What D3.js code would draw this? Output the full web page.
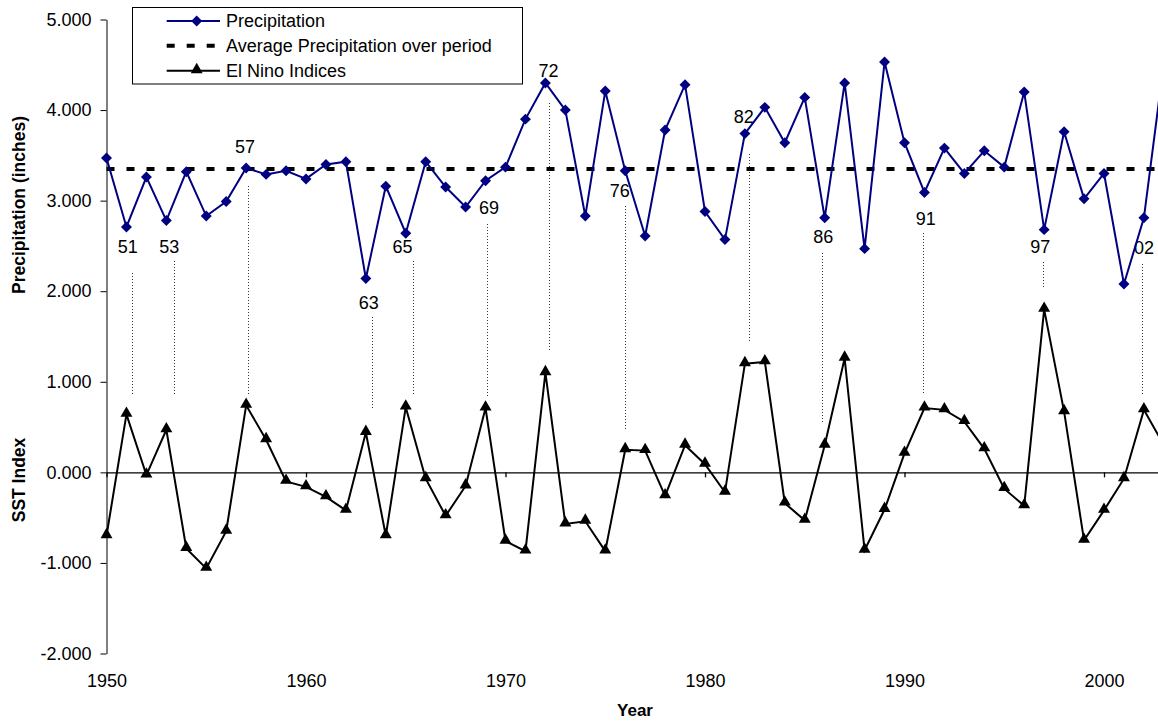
<!DOCTYPE html>
<html>
<head>
<meta charset="utf-8">
<script src="https://cdn.jsdelivr.net/npm/d3@7"></script>
<style>
  body { margin: 0; background: #fff; }
  svg { display: block; font-family: "Liberation Sans", Arial, sans-serif; }
</style>
</head>
<body>
<svg id="chart"></svg>
<script>
// data
var years = d3.range(1950, 2004);
var precipitation = [3.47, 2.71, 3.26, 2.78, 3.32, 2.83, 2.99, 3.36, 3.29, 3.33,
                     3.24, 3.40, 3.43, 2.14, 3.16, 2.64, 3.43, 3.15, 2.93, 3.22,
                     3.37, 3.90, 4.30, 4.00, 2.83, 4.21, 3.33, 2.61, 3.78, 4.28,
                     2.88, 2.57, 3.74, 4.03, 3.64, 4.14, 2.81, 4.30, 2.47, 4.53,
                     3.64, 3.09, 3.58, 3.30, 3.55, 3.37, 4.20, 2.68, 3.76, 3.02,
                     3.30, 2.08, 2.81, 4.52];
var sstIndex = [-0.70, 0.64, -0.03, 0.47, -0.84, -1.06, -0.65, 0.74, 0.36, -0.10,
                -0.16, -0.27, -0.42, 0.44, -0.70, 0.72, -0.07, -0.48, -0.15, 0.71,
                -0.76, -0.87, 1.10, -0.57, -0.54, -0.87, 0.25, 0.24, -0.26, 0.30,
                0.09, -0.22, 1.20, 1.22, -0.34, -0.53, 0.30, 1.26, -0.86, -0.41,
                0.21, 0.71, 0.69, 0.56, 0.26, -0.18, -0.37, 1.80, 0.67, -0.75,
                -0.42, -0.07, 0.69, 0.30];
var averagePrecipitation = 3.35;

var yTicks = [-2, -1, 0, 1, 2, 3, 4, 5];
var xTicks = [1950, 1960, 1970, 1980, 1990, 2000];

var seriesNames = ["Precipitation", "Average Precipitation over period", "El Nino Indices"];

// El Nino year notes (year position, value on precipitation scale)
var noteLabels = ["51", "53", "57", "63", "65", "69", "72", "76", "82", "86", "91", "97", "02"];
var noteLabelYear = [1951.06, 1953.15, 1956.94, 1963.15, 1964.84, 1969.17, 1972.16, 1975.73, 1981.94, 1985.93, 1991.07, 1996.81, 2002.0];
var noteLabelValue = [2.49, 2.49, 3.60, 1.87, 2.49, 2.92, 4.44, 3.11, 3.93, 2.60, 2.80, 2.49, 2.48];
var noteLineYear = [1951.30, 1953.40, 1957.09, 1963.30, 1965.36, 1969.07, 1972.16, 1976.01, 1982.20, 1985.85, 1990.94, 1996.94, 2001.88];
var noteLineTop = [2.20, 2.33, 3.16, 1.71, 2.33, 2.74, 4.08, 2.94, 3.52, 2.42, 2.64, 2.32, 2.30];
var noteLineBottom = [0.86, 0.86, 0.87, 0.69, 0.86, 0.84, 1.35, 0.47, 1.43, 0.54, 0.86, 2.04, 0.84];

var screen = { width: 1158, height: 721 };
var plot = { left: 106.5, top: 19.5, bottom: 653.5, perYear: 19.95 };

var drawChart = function(svgSelector)
{
  var svg = d3.select(svgSelector)
              .attr("width", screen.width)
              .attr("height", screen.height);

  var xScale = d3.scaleLinear()
                 .domain([1950, 2010])
                 .range([plot.left, plot.left + 60 * plot.perYear]);

  var yScale = d3.scaleLinear()
                 .domain([-2, 5])
                 .range([plot.bottom, plot.top]);

  var navy = "#000080";
  var fmt3 = d3.format(".3f");

  // y axis
  svg.append("g")
     .attr("transform", "translate(" + plot.left + ",0)")
     .call(d3.axisLeft(yScale).tickValues(yTicks)
             .tickFormat(function(d){ return fmt3(d).replace("\u2212", "-"); })
             .tickSize(6).tickSizeOuter(0).tickPadding(9))
     .call(function(g){
        g.selectAll("text").attr("font-size", 18).attr("fill", "#000")
         .attr("font-family", "Liberation Sans, Arial, sans-serif");
        g.selectAll("line, path").attr("stroke", "#000");
     });

  // x axis on the zero line
  svg.append("g")
     .attr("transform", "translate(0," + yScale(0) + ")")
     .call(d3.axisBottom(xScale).tickValues(xTicks.concat([2010])).tickFormat("").tickSize(5).tickSizeOuter(0))
     .call(function(g){
        g.selectAll("line, path").attr("stroke", "#000").attr("stroke-width", 1.3);
     });

  // x tick labels low
  svg.append("g")
     .attr("transform", "translate(0," + plot.bottom + ")")
     .call(d3.axisBottom(xScale).tickValues(xTicks).tickFormat(d3.format("d")).tickSize(0).tickPadding(20.5))
     .call(function(g){
        g.select(".domain").remove();
        g.selectAll("text").attr("font-size", 18).attr("fill", "#000")
         .attr("font-family", "Liberation Sans, Arial, sans-serif");
     });

  // axis titles
  svg.append("text")
     .text("Precipitation (inches)")
     .attr("transform", "translate(18.5,205) rotate(-90)")
     .attr("text-anchor", "middle").attr("dy", "0.35em")
     .attr("font-size", 17.5).attr("font-weight", "bold");

  svg.append("text")
     .text("SST Index")
     .attr("transform", "translate(18.5,480) rotate(-90)")
     .attr("text-anchor", "middle").attr("dy", "0.35em")
     .attr("font-size", 17.5).attr("font-weight", "bold");

  svg.append("text")
     .text("Year")
     .attr("x", 635).attr("y", 710)
     .attr("text-anchor", "middle").attr("dy", "0.35em")
     .attr("font-size", 17).attr("font-weight", "bold");

  // dotted note lines and labels
  svg.append("g").selectAll("line")
     .data(noteLabels)
     .enter()
     .append("line")
     .attr("x1", function(d, i){ return Math.round(xScale(noteLineYear[i])) + 0.5; })
     .attr("x2", function(d, i){ return Math.round(xScale(noteLineYear[i])) + 0.5; })
     .attr("y1", function(d, i){ return Math.round(yScale(noteLineTop[i])); })
     .attr("y2", function(d, i){ return Math.round(yScale(noteLineBottom[i])); })
     .attr("stroke", "#333")
     .attr("stroke-width", 1)
     .attr("stroke-dasharray", "1,2");

  svg.append("g").selectAll("text")
     .data(noteLabels)
     .enter()
     .append("text")
     .text(function(d){ return d; })
     .attr("x", function(d, i){ return xScale(noteLabelYear[i]); })
     .attr("y", function(d, i){ return yScale(noteLabelValue[i]); })
     .attr("dy", "0.35em")
     .attr("text-anchor", "middle")
     .attr("font-size", 18);

  // average line
  svg.append("line")
     .attr("x1", xScale(1950))
     .attr("x2", xScale(2010))
     .attr("y1", yScale(averagePrecipitation))
     .attr("y2", yScale(averagePrecipitation))
     .attr("stroke", "#000")
     .attr("stroke-width", 4)
     .attr("stroke-dasharray", "8,12");

  // El Nino index
  var sstLine = d3.line()
                  .x(function(d, i){ return xScale(years[i]); })
                  .y(function(d){ return yScale(d); });

  svg.append("path")
     .datum(sstIndex)
     .attr("d", sstLine)
     .attr("fill", "none")
     .attr("stroke", "#000")
     .attr("stroke-width", 2);

  var triangle = d3.symbol().type(d3.symbolTriangle).size(62);
  svg.append("g").selectAll("path")
     .data(sstIndex)
     .enter()
     .append("path")
     .attr("d", triangle)
     .attr("transform", function(d, i){ return "translate(" + xScale(years[i]) + "," + (yScale(d) - 1) + ")"; })
     .attr("fill", "#000");

  // precipitation
  var precipLine = d3.line()
                     .x(function(d, i){ return xScale(years[i]); })
                     .y(function(d){ return yScale(d); });

  svg.append("path")
     .datum(precipitation)
     .attr("d", precipLine)
     .attr("fill", "none")
     .attr("stroke", navy)
     .attr("stroke-width", 2);

  var diamond = d3.symbol().type(d3.symbolSquare).size(60);
  svg.append("g").selectAll("path")
     .data(precipitation)
     .enter()
     .append("path")
     .attr("d", diamond)
     .attr("transform", function(d, i){ return "translate(" + xScale(years[i]) + "," + yScale(d) + ") rotate(45)"; })
     .attr("fill", navy);

  // legend
  var legend = svg.append("g");
  legend.append("rect")
        .attr("x", 132.5).attr("y", 7.5)
        .attr("width", 390).attr("height", 76.5)
        .attr("fill", "#fff")
        .attr("stroke", "#000")
        .attr("stroke-width", 1);

  var rowY = [21, 45.7, 70.7];
  legend.selectAll("text")
        .data(seriesNames)
        .enter()
        .append("text")
        .text(function(d){ return d; })
        .attr("x", 226)
        .attr("y", function(d, i){ return rowY[i]; })
        .attr("dy", "0.35em")
        .attr("font-size", 18);

  legend.append("line")
        .attr("x1", 166.7).attr("x2", 220).attr("y1", rowY[0]).attr("y2", rowY[0])
        .attr("stroke", navy).attr("stroke-width", 2);
  legend.append("path")
        .attr("d", diamond)
        .attr("transform", "translate(196.7," + rowY[0] + ") rotate(45)")
        .attr("fill", navy);

  legend.append("line")
        .attr("x1", 166.7).attr("x2", 220).attr("y1", rowY[1]).attr("y2", rowY[1])
        .attr("stroke", "#000").attr("stroke-width", 4)
        .attr("stroke-dasharray", "8,12");

  legend.append("line")
        .attr("x1", 166.7).attr("x2", 220).attr("y1", rowY[2]).attr("y2", rowY[2])
        .attr("stroke", "#000").attr("stroke-width", 2);
  legend.append("path")
        .attr("d", triangle)
        .attr("transform", "translate(196.7," + (rowY[2] - 1) + ")")
        .attr("fill", "#000");
};

drawChart("#chart");
</script>
</body>
</html>
